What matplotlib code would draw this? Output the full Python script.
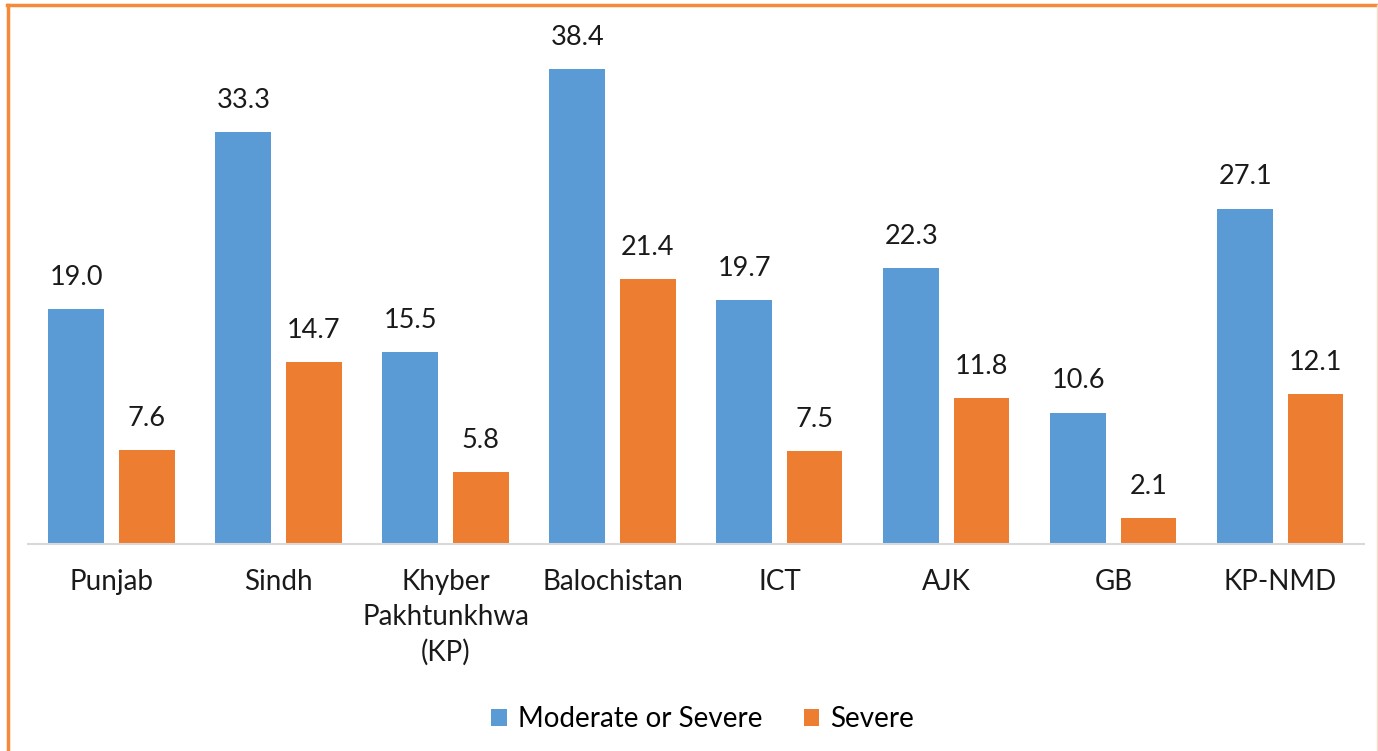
import numpy as np
import matplotlib.pyplot as plt
from matplotlib.lines import Line2D

# === Data ===
regions = ['Punjab', 'Sindh', 'Khyber\nPakhtunkhwa\n(KP)', 'Balochistan',
           'ICT', 'AJK', 'GB', 'KP-NMD']
moderate_severe = [19.0, 33.3, 15.5, 38.4, 19.7, 22.3, 10.6, 27.1]
severe = [7.6, 14.7, 5.8, 21.4, 7.5, 11.8, 2.1, 12.1]

blue = '#5B9BD5'
orange = '#ED7D31'

plt.rcParams['font.family'] = ['Lato', 'DejaVu Sans']

fig = plt.figure(figsize=(13.78, 7.51), dpi=100)
ax = fig.add_axes([0.0203, 0.2756, 0.9695, 0.6978])

x = np.arange(len(regions))
w = 0.335
off = 0.21
b1 = ax.bar(x - off, moderate_severe, w, color=blue, label='Moderate or Severe')
b2 = ax.bar(x + off, severe, w, color=orange, label='Severe')

for bars, vals in [(b1, moderate_severe), (b2, severe)]:
    for r, v in zip(bars, vals):
        ax.annotate(f'{v:.1f}', (r.get_x() + r.get_width() / 2, v),
                    xytext=(0, 23), textcoords='offset points',
                    ha='center', va='center', fontsize=19.5, color='#1a1a1a')

ax.set_xlim(-0.5, len(regions) - 0.5)
ax.set_ylim(0, 42.36)
ax.set_yticks([])
ax.set_xticks(x)
ax.set_xticklabels(regions, fontsize=20, color='#1a1a1a', linespacing=1.42)
ax.tick_params(axis='x', length=0, pad=18)
for s in ['top', 'right', 'left']:
    ax.spines[s].set_visible(False)
ax.spines['bottom'].set_color('#D9D9D9')
ax.spines['bottom'].set_linewidth(1.5)

ax.legend(loc='center', bbox_to_anchor=(0.505, -0.334), ncol=2, frameon=False,
          fontsize=20, handlelength=0.55, handleheight=0.55, columnspacing=1.5,
          handletextpad=0.4)

# orange frame around the picture
fig.add_artist(Line2D([0.005, 1.0], [0.993, 0.993], color='#F58A3A', lw=2.5,
                      transform=fig.transFigure))
fig.add_artist(Line2D([0.006, 0.006], [0.0, 0.993], color='#F58A3A', lw=2.5,
                      transform=fig.transFigure))
fig.add_artist(Line2D([0.9992, 0.9992], [0.0, 0.993], color='#F9DCC8', lw=1,
                      transform=fig.transFigure))

fig.savefig('out.png', dpi=100)
